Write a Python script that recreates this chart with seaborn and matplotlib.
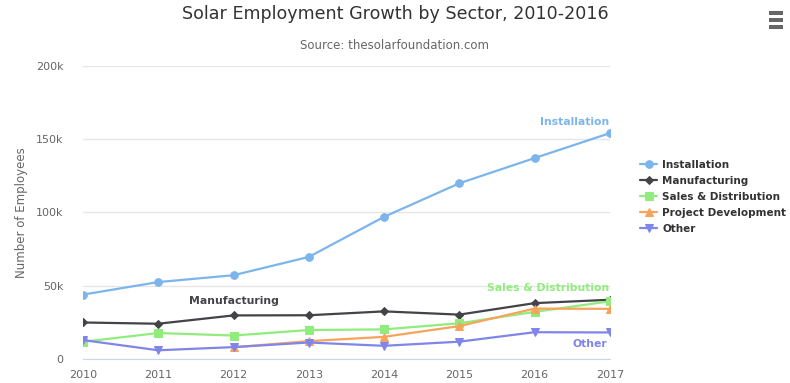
import numpy as np
import pandas as pd
import seaborn as sns
import matplotlib.pyplot as plt
from matplotlib.patches import Rectangle

years = [2010, 2011, 2012, 2013, 2014, 2015, 2016, 2017]
installation = [43934, 52503, 57177, 69658, 97031, 119931, 137133, 154175]
manufacturing = [24916, 24064, 29742, 29851, 32490, 30282, 38121, 40434]
sales = [11744, 17722, 16005, 19771, 20185, 24377, 32147, 39387]
project_dev = [np.nan, np.nan, 7988, 12169, 15112, 22452, 34400, 34227]
other = [12908, 5948, 8105, 11248, 8989, 11816, 18274, 18111]

series = ['Installation', 'Manufacturing', 'Sales & Distribution', 'Project Development', 'Other']
colors = ['#7cb5ec', '#434348', '#90ed7d', '#f7a35c', '#8085e9']
markers = ['o', 'D', 's', '^', 'v']
sizes = [5.5, 4.5, 6, 6, 6]

df = pd.DataFrame({'Year': years, 'Installation': installation, 'Manufacturing': manufacturing,
                   'Sales & Distribution': sales, 'Project Development': project_dev, 'Other': other})
long_df = df.melt(id_vars='Year', var_name='Sector', value_name='Employees').dropna()

sns.set_style('white')
plt.rcParams['font.family'] = ['DejaVu Sans']

fig = plt.figure(figsize=(7.9, 3.83), dpi=100)
ax = fig.add_axes([0.105, 0.0627, 0.667, 0.765])

for name, c, m, s in zip(series, colors, markers, sizes):
    sub = long_df[long_df['Sector'] == name]
    sns.lineplot(data=sub, x='Year', y='Employees', ax=ax, color=c, marker=m,
                 markersize=s, markeredgecolor=c, linewidth=1.6, label=name)

ax.set_xlim(2010, 2017)
ax.set_ylim(0, 200000)
ax.set_xticks(years)
ax.set_xticklabels([str(y) for y in years], color='#666666', fontsize=8)
ax.set_yticks([0, 50000, 100000, 150000, 200000])
ax.set_yticklabels(['0', '50k', '100k', '150k', '200k'], color='#666666', fontsize=8)
ax.yaxis.grid(True, color='#e6e6e6', linewidth=1)
ax.set_axisbelow(True)
for sp in ['top', 'right', 'left']:
    ax.spines[sp].set_visible(False)
ax.spines['bottom'].set_color('#ccd6eb')
ax.tick_params(axis='x', length=5, color='#ccd6eb', pad=3)
ax.tick_params(axis='y', length=0, pad=14)
ax.set_xlabel('')
ax.set_ylabel('Number of Employees', color='#666666', fontsize=8.5, labelpad=6)

# series labels
ax.text(2016.53, 162000, 'Installation', color=colors[0], fontsize=7.8, fontweight='bold', ha='center', va='center')
ax.text(2012.0, 39600, 'Manufacturing', color=colors[1], fontsize=7.8, fontweight='bold', ha='center', va='center')
ax.text(2016.18, 48500, 'Sales & Distribution', color=colors[2], fontsize=7.8, fontweight='bold', ha='center', va='center')
ax.text(2016.73, 10200, 'Other', color=colors[4], fontsize=7.8, fontweight='bold', ha='center', va='center')

leg = ax.legend(loc='upper left', bbox_to_anchor=(1.05, 0.695), frameon=False, fontsize=7.5,
                handlelength=1.6, handletextpad=0.5, labelspacing=0.58, borderaxespad=0)
for t in leg.get_texts():
    t.set_color('#333333')
    t.set_fontweight('bold')

fig.text(0.5, 0.963, 'Solar Employment Growth by Sector, 2010-2016', ha='center', va='center',
         fontsize=12.6, color='#333333')
fig.text(0.5, 0.882, 'Source: thesolarfoundation.com', ha='center', va='center',
         fontsize=8.5, color='#666666')

# context menu icon
for i in range(3):
    fig.add_artist(Rectangle((0.973, 0.925 + i * 0.018), 0.018, 0.009, transform=fig.transFigure,
                             color='#666666', lw=0))

fig.savefig('out.png', dpi=100)
